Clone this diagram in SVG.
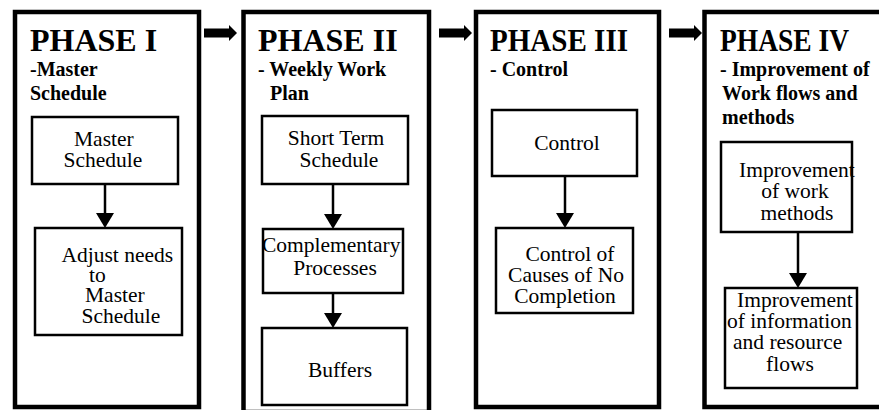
<svg xmlns="http://www.w3.org/2000/svg" width="879" height="410" viewBox="0 0 879 410">
  <style>
    .phase { fill: #fff; stroke: #000; stroke-width: 4.5; }
    .step { fill: #fff; stroke: #000; stroke-width: 2.5; }
    .title { font-family: "Liberation Serif", "Times New Roman", serif; font-weight: bold; font-size: 32px; fill: #000; }
    .sub { font-family: "Liberation Serif", "Times New Roman", serif; font-weight: bold; font-size: 20px; fill: #000; }
    .lbl { font-family: "Liberation Serif", "Times New Roman", serif; font-size: 21.5px; fill: #000; }
    .c { text-anchor: middle; }
    .flow { stroke: #000; stroke-width: 2.5; fill: none; marker-end: url(#head); }
    .block { fill: #000; }
  </style>
  <defs>
    <marker id="head" viewBox="0 0 15 18" refX="12" refY="9" markerWidth="15" markerHeight="18" markerUnits="userSpaceOnUse" orient="auto">
      <path d="M0,0 L15,9 L0,18 Z" fill="#000"/>
    </marker>
    <path id="bigArrow" d="M0,-4.5 H25 V-8 L33,0 L25,8 V4.5 H0 Z"/>
  </defs>
  <rect width="879" height="410" fill="#fff"/>

  <!-- Phase I -->
  <g id="phase1">
    <rect class="phase" x="15" y="12" width="184" height="395"/>
    <text class="title" x="30" y="51">PHASE I</text>
    <text class="sub" x="30" y="76">-Master</text>
    <text class="sub" x="30" y="100">Schedule</text>
  </g>
  <g id="master-schedule">
    <rect class="step" x="32" y="117" width="146" height="67"/>
    <text class="lbl" x="74" y="146">Master</text>
    <text class="lbl" x="63.5" y="167">Schedule</text>
  </g>
  <g id="adjust-needs">
    <rect class="step" x="35" y="228" width="147" height="107"/>
    <text class="lbl" x="61.5" y="262">Adjust needs</text>
    <text class="lbl" x="89" y="282">to</text>
    <text class="lbl" x="85" y="302">Master</text>
    <text class="lbl" x="81.5" y="323">Schedule</text>
  </g>

  <!-- Phase II -->
  <g id="phase2">
    <rect class="phase" x="243.5" y="12" width="185.5" height="400"/>
    <text class="title" x="258" y="51">PHASE II</text>
    <text class="sub" x="258" y="76">- Weekly Work</text>
    <text class="sub" x="270" y="100">Plan</text>
  </g>
  <g id="short-term-schedule">
    <rect class="step" x="262" y="116" width="146" height="68"/>
    <text class="lbl c" x="336" y="145">Short Term</text>
    <text class="lbl c" x="339" y="167">Schedule</text>
  </g>
  <g id="complementary-processes">
    <rect class="step" x="263" y="229" width="140" height="64"/>
    <text class="lbl" x="262" y="252">Complementary</text>
    <text class="lbl c" x="335" y="275">Processes</text>
  </g>
  <g id="buffers">
    <rect class="step" x="262" y="328" width="145" height="77"/>
    <text class="lbl c" x="340" y="377">Buffers</text>
  </g>

  <!-- Phase III -->
  <g id="phase3">
    <rect class="phase" x="476" y="12" width="183" height="395"/>
    <text class="title" x="490" y="51" textLength="138" lengthAdjust="spacingAndGlyphs">PHASE III</text>
    <text class="sub" x="490" y="76">- Control</text>
  </g>
  <g id="control">
    <rect class="step" x="492" y="110" width="145" height="66"/>
    <text class="lbl c" x="567" y="150">Control</text>
  </g>
  <g id="control-causes">
    <rect class="step" x="496" y="228" width="137" height="85"/>
    <text class="lbl c" x="570" y="261">Control of</text>
    <text class="lbl c" x="566" y="282">Causes of No</text>
    <text class="lbl c" x="565" y="303">Completion</text>
  </g>

  <!-- Phase IV -->
  <g id="phase4">
    <rect class="phase" x="704.5" y="12" width="190" height="395"/>
    <text class="title" x="720" y="51" textLength="129" lengthAdjust="spacingAndGlyphs">PHASE IV</text>
    <text class="sub" x="720" y="76">- Improvement of</text>
    <text class="sub" x="722" y="100">Work flows and</text>
    <text class="sub" x="722" y="124">methods</text>
  </g>
  <g id="work-methods">
    <rect class="step" x="721" y="142" width="131" height="90"/>
    <text class="lbl" x="739" y="177">Improvement</text>
    <text class="lbl c" x="795" y="198">of work</text>
    <text class="lbl c" x="797" y="220">methods</text>
  </g>
  <g id="info-resource-flows">
    <rect class="step" x="725" y="288" width="132" height="100"/>
    <text class="lbl" x="737" y="307">Improvement</text>
    <text class="lbl" x="727" y="328">of information</text>
    <text class="lbl" x="733" y="349">and resource</text>
    <text class="lbl c" x="790" y="371">flows</text>
  </g>

  <!-- Connectors -->
  <g id="connectors">
    <use href="#bigArrow" class="block" transform="translate(204,33)"/>
    <use href="#bigArrow" class="block" transform="translate(439,33)"/>
    <use href="#bigArrow" class="block" transform="translate(669,33)"/>
    <line class="flow" x1="105" y1="184" x2="105" y2="225"/>
    <line class="flow" x1="333" y1="184" x2="333" y2="226"/>
    <line class="flow" x1="333" y1="293" x2="333" y2="325"/>
    <line class="flow" x1="565" y1="176" x2="565" y2="225"/>
    <line class="flow" x1="798" y1="232" x2="798" y2="285"/>
  </g>
</svg>
